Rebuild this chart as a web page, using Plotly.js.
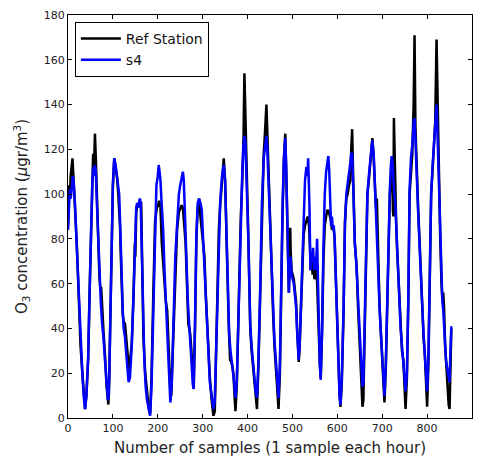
<!DOCTYPE html>
<html>
<head>
<meta charset="utf-8">
<script src="https://cdn.plot.ly/plotly-3.0.1.min.js"></script>
<style>html,body{margin:0;padding:0;background:#fff;}#chart{width:482px;height:461px;}</style>
</head>
<body>
<div id="chart"></div>
<script>
// Ref Station: sample index and O3 value
const refX = [0,2,4,6,10,13,16,20,24,28,32,35,38,41,45,48,51,54,56,58,60,62,64,67,70,72,74,76,79,83,86,90,92,94,97,100,103,106,109,112,114,116,118,120,122,124,127,131,134,136,138,142,146,149,150,152,155,157,159,161,163,165,168,172,176,180,183,186,190,194,198,201,203,206,209,212,215,218,221,223,225,228,230,233,236,240,243,247,250,253,256,259,262,265,268,270,272,275,278,280,283,286,289,292,295,298,301,304,307,310,313,316,320,324,327,330,333,336,339,343,347,350,353,356,358,361,364,367,369,371,373,376,379,382,385,388,391,393,395,397,400,402,404,406,409,412,415,418,421,424,428,432,436,439,442,444,447,451,454,457,460,463,466,469,472,475,478,481,484,486,488,490,492,494,495,496,498,501,503,506,508,510,512,514,516,519,522,525,528,531,534,537,539,541,543,545,547,549,551,553,555,557,559,561,563,566,569,572,575,578,581,584,586,588,591,594,597,600,603,605,607,610,614,617,620,623,626,629,631,633,635,637,639,642,644,646,648,650,652,654,656,658,661,664,667,671,674,678,681,684,686,688,690,692,694,697,700,703,705,708,711,714,717,720,722,724,725,726,728,731,733,735,737,739,741,744,747,749,752,755,758,761,764,767,770,772,774,777,780,783,786,789,792,795,798,800,803,806,809,812,815,818,821,823,826,829,832,834,836,838,840,842,845,848,850,852,854];
const refY = [85,104,98,108,116,104,96,76,54,32,20,12,4,10,26,55,80,106,118,112,127,116,99,82,63,58,58,47,39,26,14,6,18,41,78,104,116,112,108,100,92,85,70,57,46,43,42,33,24,21,25,33,55,78,72,92,96,94,96,96,96,72,36,20,10,4,2,18,55,88,94,95,97,94,78,68,60,52,48,35,22,12,10,28,50,75,84,92,94,95,94,86,78,60,42,40,38,30,16,13,40,80,94,98,90,83,78,72,55,40,30,18,8,1,3,30,60,84,95,108,116,106,80,55,42,26,25,22,18,10,3,14,40,70,90,105,125,154,140,122,95,78,60,40,30,23,16,8,4,22,55,96,118,128,140,128,108,75,58,46,32,24,14,4,20,60,92,116,127,112,93,72,56,70,85,75,66,64,62,56,52,42,32,25,32,48,65,82,86,88,90,86,76,66,70,64,68,62,64,70,60,46,36,24,18,38,70,86,90,93,92,90,88,84,86,80,60,40,20,10,5,16,48,88,98,100,104,106,120,129,110,92,78,70,63,50,40,33,24,14,5,8,40,75,100,108,114,125,116,104,94,98,82,60,50,38,24,12,7,22,48,85,100,108,112,92,90,134,110,88,76,68,62,50,40,30,26,16,4,18,50,100,112,118,140,171,130,108,94,80,62,48,36,28,14,5,25,60,100,110,125,132,169,145,110,82,60,53,56,48,33,26,16,6,4,25,40];
// s4 sensor
const s4X = [0,2,4,6,8,11,13,16,20,24,28,32,35,38,41,45,48,51,54,56,58,60,62,64,67,70,73,76,79,83,86,89,91,94,97,100,103,106,109,112,114,116,118,120,122,124,127,130,133,135,138,142,146,150,152,154,156,158,160,162,164,167,170,173,176,180,183,186,190,194,197,200,202,204,206,208,210,212,215,218,221,224,226,228,231,235,239,243,247,250,253,256,258,260,262,264,267,270,273,276,278,280,283,286,289,292,295,298,301,304,307,310,313,316,320,324,327,330,333,336,339,343,347,350,353,356,359,362,365,368,371,373,376,379,382,385,388,391,393,395,397,400,402,404,406,409,412,415,418,421,424,428,432,436,439,442,444,447,451,454,457,460,463,466,469,472,475,478,481,484,486,488,490,492,494,496,498,501,503,506,508,510,512,514,516,519,522,525,528,531,533,535,537,538,540,542,544,546,548,550,552,554,555,557,559,561,563,566,569,572,575,578,580,582,584,586,588,590,592,594,597,600,603,605,607,610,614,617,620,623,626,629,631,633,635,637,639,642,644,646,648,650,652,654,656,658,661,664,667,671,674,678,681,684,686,688,690,692,694,697,700,703,705,708,711,714,717,719,721,723,725,727,729,731,733,735,737,739,741,744,747,749,752,755,758,761,764,767,770,772,774,777,780,783,786,789,792,795,798,800,803,806,809,812,815,818,821,823,826,829,832,834,836,838,840,842,845,848,850,852,854];
const s4Y = [84,95,102,98,104,108,104,94,74,54,34,20,10,4,10,28,55,82,104,112,108,113,110,98,80,64,52,42,36,24,14,8,10,40,78,104,116,113,108,102,100,88,72,57,48,40,36,28,20,16,18,32,55,80,94,96,94,96,98,96,76,45,26,14,8,4,1,14,52,90,104,108,113,110,106,98,92,84,66,52,40,28,14,7,14,46,72,86,100,104,108,110,106,96,88,70,52,40,32,22,15,13,44,82,96,98,96,93,80,68,52,40,28,16,10,4,8,32,60,84,96,108,113,106,82,56,38,30,26,20,14,9,16,40,70,90,108,122,126,124,112,94,78,60,42,32,24,18,12,9,24,56,96,116,122,126,120,104,76,60,48,34,26,16,9,24,62,94,116,125,112,93,72,56,68,72,64,62,60,54,50,40,32,26,32,50,70,94,106,112,108,116,106,94,66,74,70,76,66,72,66,76,80,60,40,24,17,40,76,100,110,116,117,110,96,86,90,84,86,80,60,40,20,10,6,18,50,86,100,104,110,114,118,118,106,92,78,70,62,50,40,32,24,18,14,16,42,76,100,110,116,124,118,100,88,80,70,58,50,38,26,14,10,24,50,86,102,112,117,114,104,100,96,86,76,68,60,50,40,32,26,20,12,20,52,102,116,122,132,134,124,104,92,78,62,50,38,28,18,12,28,62,100,112,122,130,140,128,106,80,62,52,48,40,32,26,22,18,16,30,41];

const seriesNames = ["Ref Station", "s4"];
const seriesColors = ["#000000", "#0000ff"];

const traces = [
  {x: refX, y: refY, type: "scatter", mode: "lines", name: seriesNames[0],
   line: {color: seriesColors[0], width: 2.5}},
  {x: s4X, y: s4Y, type: "scatter", mode: "lines", name: seriesNames[1],
   line: {color: seriesColors[1], width: 2.5}}
];

const font = "DejaVu Sans, sans-serif";
const layout = {
  width: 482, height: 461,
  margin: {l: 68, r: 10, t: 15, b: 43},
  paper_bgcolor: "#fff", plot_bgcolor: "#fff",
  font: {family: font, color: "#000", size: 11},
  showlegend: true,
  legend: {x: 0.017, y: 0.983, xanchor: "left", yanchor: "top",
           bordercolor: "#000", borderwidth: 1, bgcolor: "#fff",
           font: {family: font, size: 14, color: "#111"}, tracegroupgap: 0,
           itemwidth: 40},
  xaxis: {range: [0, 900], dtick: 100, tick0: 0, showgrid: false, zeroline: false,
          showline: true, linecolor: "#000", linewidth: 1, mirror: "ticks",
          ticks: "inside", ticklen: 4, tickcolor: "#000",
          tickfont: {family: font, size: 11, color: "#222"},
          title: {text: "Number of samples (1 sample each hour)", font: {family: font, size: 15, color: "#222"}, standoff: 8}},
  yaxis: {range: [0, 180], dtick: 20, tick0: 0, showgrid: false, zeroline: false,
          showline: true, linecolor: "#000", linewidth: 1, mirror: "ticks",
          ticks: "inside", ticklen: 4, tickcolor: "#000",
          tickfont: {family: font, size: 11, color: "#222"},
          title: {text: "O<sub>3</sub> concentration (<i>μ</i>gr/m<sup>3</sup>)", font: {family: font, size: 15, color: "#222"}, standoff: 12}}
};

Plotly.newPlot("chart", traces, layout, {displayModeBar: false, staticPlot: true});
</script>
</body>
</html>
